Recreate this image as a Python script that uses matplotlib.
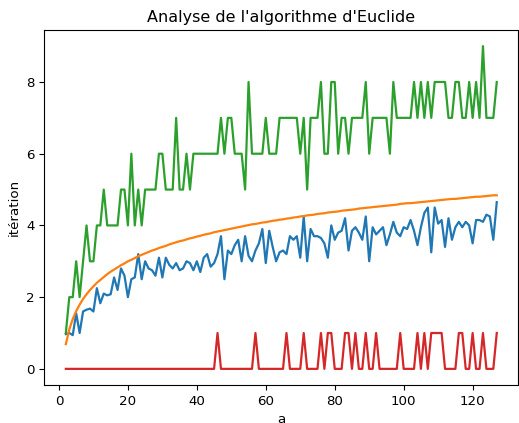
import numpy as np
import matplotlib
matplotlib.use("Agg")
import matplotlib.pyplot as plt

# values of a (x axis)
a_values = np.arange(2, 128)

# mean number of iterations (blue)
iter_moy = [0.97, 1.0, 0.94, 1.55, 1.0, 1.6, 1.65, 1.68, 1.6, 2.25, 1.83, 2.1, 2.05, 2.08, 2.55,
            2.2, 2.8, 2.6, 2.0, 2.5, 2.55, 3.2, 2.5, 3.0, 2.8, 2.75, 2.6, 3.1, 2.55, 3.1, 2.9, 2.8, 2.95,
            2.75, 2.8, 3.0, 2.95, 2.75, 3.0, 2.7, 3.1, 3.2, 2.85, 2.95, 3.2, 3.7, 2.5, 3.3, 3.2, 3.45, 3.6, 3.0,
            3.7, 3.15, 3.0, 3.3, 3.5, 3.9, 2.95, 3.85, 3.4, 3.0, 3.25, 3.3, 3.2, 3.7, 3.6, 3.7, 3.1, 4.25,
            3.0, 3.9, 3.7, 3.7, 3.65, 3.5, 3.1, 4.0, 3.6, 3.8, 3.85, 4.2, 3.3, 3.85, 3.95, 3.8, 3.6, 4.25,
            3.0, 3.95, 3.75, 3.85, 3.95, 3.45, 3.75, 4.1, 3.8, 3.7, 3.95, 3.9, 4.15, 3.85, 3.45, 3.95, 4.35, 4.5,
            3.25, 4.5, 4.05, 4.15, 3.4, 4.2, 3.6, 3.95, 4.1, 3.95, 4.1, 4.0, 3.5, 4.15, 4.15, 4.1, 4.3, 4.25, 3.6, 4.65]

# reference curve (orange)
courbe_ref = [0.69, 1.10, 1.39, 1.61, 1.79, 1.95, 2.08, 2.20, 2.30, 2.40, 2.48, 2.56, 2.64, 2.71, 2.77,
              2.83, 2.89, 2.94, 3.00, 3.04, 3.09, 3.14, 3.18, 3.22, 3.26, 3.30, 3.33, 3.37, 3.40, 3.43,
              3.47, 3.50, 3.53, 3.56, 3.58, 3.61, 3.64, 3.66, 3.69, 3.71, 3.74, 3.76, 3.78, 3.81, 3.83,
              3.85, 3.87, 3.89, 3.91, 3.93, 3.95, 3.97, 3.99, 4.01, 4.03, 4.04, 4.06, 4.08, 4.09, 4.11,
              4.13, 4.14, 4.16, 4.17, 4.19, 4.20, 4.22, 4.23, 4.25, 4.26, 4.28, 4.29, 4.30, 4.32, 4.33,
              4.34, 4.36, 4.37, 4.38, 4.39, 4.41, 4.42, 4.43, 4.44, 4.45, 4.47, 4.48, 4.49, 4.50, 4.51,
              4.52, 4.53, 4.54, 4.55, 4.56, 4.57, 4.58, 4.60, 4.61, 4.62, 4.62, 4.63, 4.64, 4.65, 4.66,
              4.67, 4.68, 4.69, 4.70, 4.71, 4.72, 4.73, 4.74, 4.74, 4.75, 4.76, 4.77, 4.78, 4.79, 4.80,
              4.80, 4.81, 4.82, 4.83, 4.84, 4.84]

# max number of iterations (green)
iter_max = [1, 2, 2, 3, 2, 3, 4, 3, 3, 4, 4, 5, 4, 4, 4,
            4, 5, 5, 4, 6, 4, 5, 4, 5, 5, 5, 5, 6, 6, 5, 5, 5, 7,
            5, 5, 6, 5, 6, 6, 6, 6, 6, 6, 6, 6, 7, 6, 7, 7, 6, 6, 6,
            5, 8, 6, 6, 6, 6, 7, 6, 6, 6, 7, 7, 7, 7, 7, 7, 6, 7,
            5, 7, 7, 7, 8, 6, 6, 8, 8, 6, 7, 7, 6, 7, 7, 7, 7, 8,
            6, 7, 7, 7, 7, 7, 6, 8, 7, 7, 7, 7, 7, 8, 7, 8, 7, 8,
            7, 8, 8, 8, 8, 7, 7, 8, 8, 7, 7, 8, 7, 8, 7, 9, 7, 7, 7, 8]

# min number of iterations (red)
iter_min = [0, 0, 0, 0, 0, 0, 0, 0, 0, 0, 0, 0, 0, 0, 0, 0, 0, 0, 0, 0, 0, 0,
            0, 0, 0, 0, 0, 0, 0, 0, 0, 0, 0, 0, 0, 0, 0, 0, 0, 0, 0, 0, 0, 0,
            1, 0, 0, 0, 0, 0, 0, 0, 0, 0, 0,
            1, 0, 0, 0, 0, 0, 0, 0, 0,
            1, 0, 0, 0, 0,
            1, 0, 0, 0, 0,
            1, 0, 1, 1, 0, 0, 0, 1, 1, 0, 1, 0, 0, 1, 0, 0, 1,
            0, 0, 0, 0, 0, 0, 1, 0, 0, 0, 0, 1, 0, 1, 0, 1, 1, 1, 1,
            0, 0, 0, 0, 1, 1, 0, 0, 1, 0, 0, 1, 0, 0, 0, 1]

plt.rcParams['font.size'] = 9.6

fig = plt.figure(figsize=(5.19, 4.23), dpi=100)
ax = fig.add_axes([44.3 / 519, 38 / 423, 474 / 519, 355 / 423])

ax.plot(a_values, iter_moy, lw=1.6)
ax.plot(a_values, courbe_ref, lw=1.6)
ax.plot(a_values, iter_max, lw=1.6)
ax.plot(a_values, iter_min, lw=1.6)

ax.set_title("Analyse de l'algorithme d'Euclide", fontsize=11.5)
ax.set_xlabel('a')
ax.set_ylabel('itération')

fig.savefig('out.png', dpi=100)
